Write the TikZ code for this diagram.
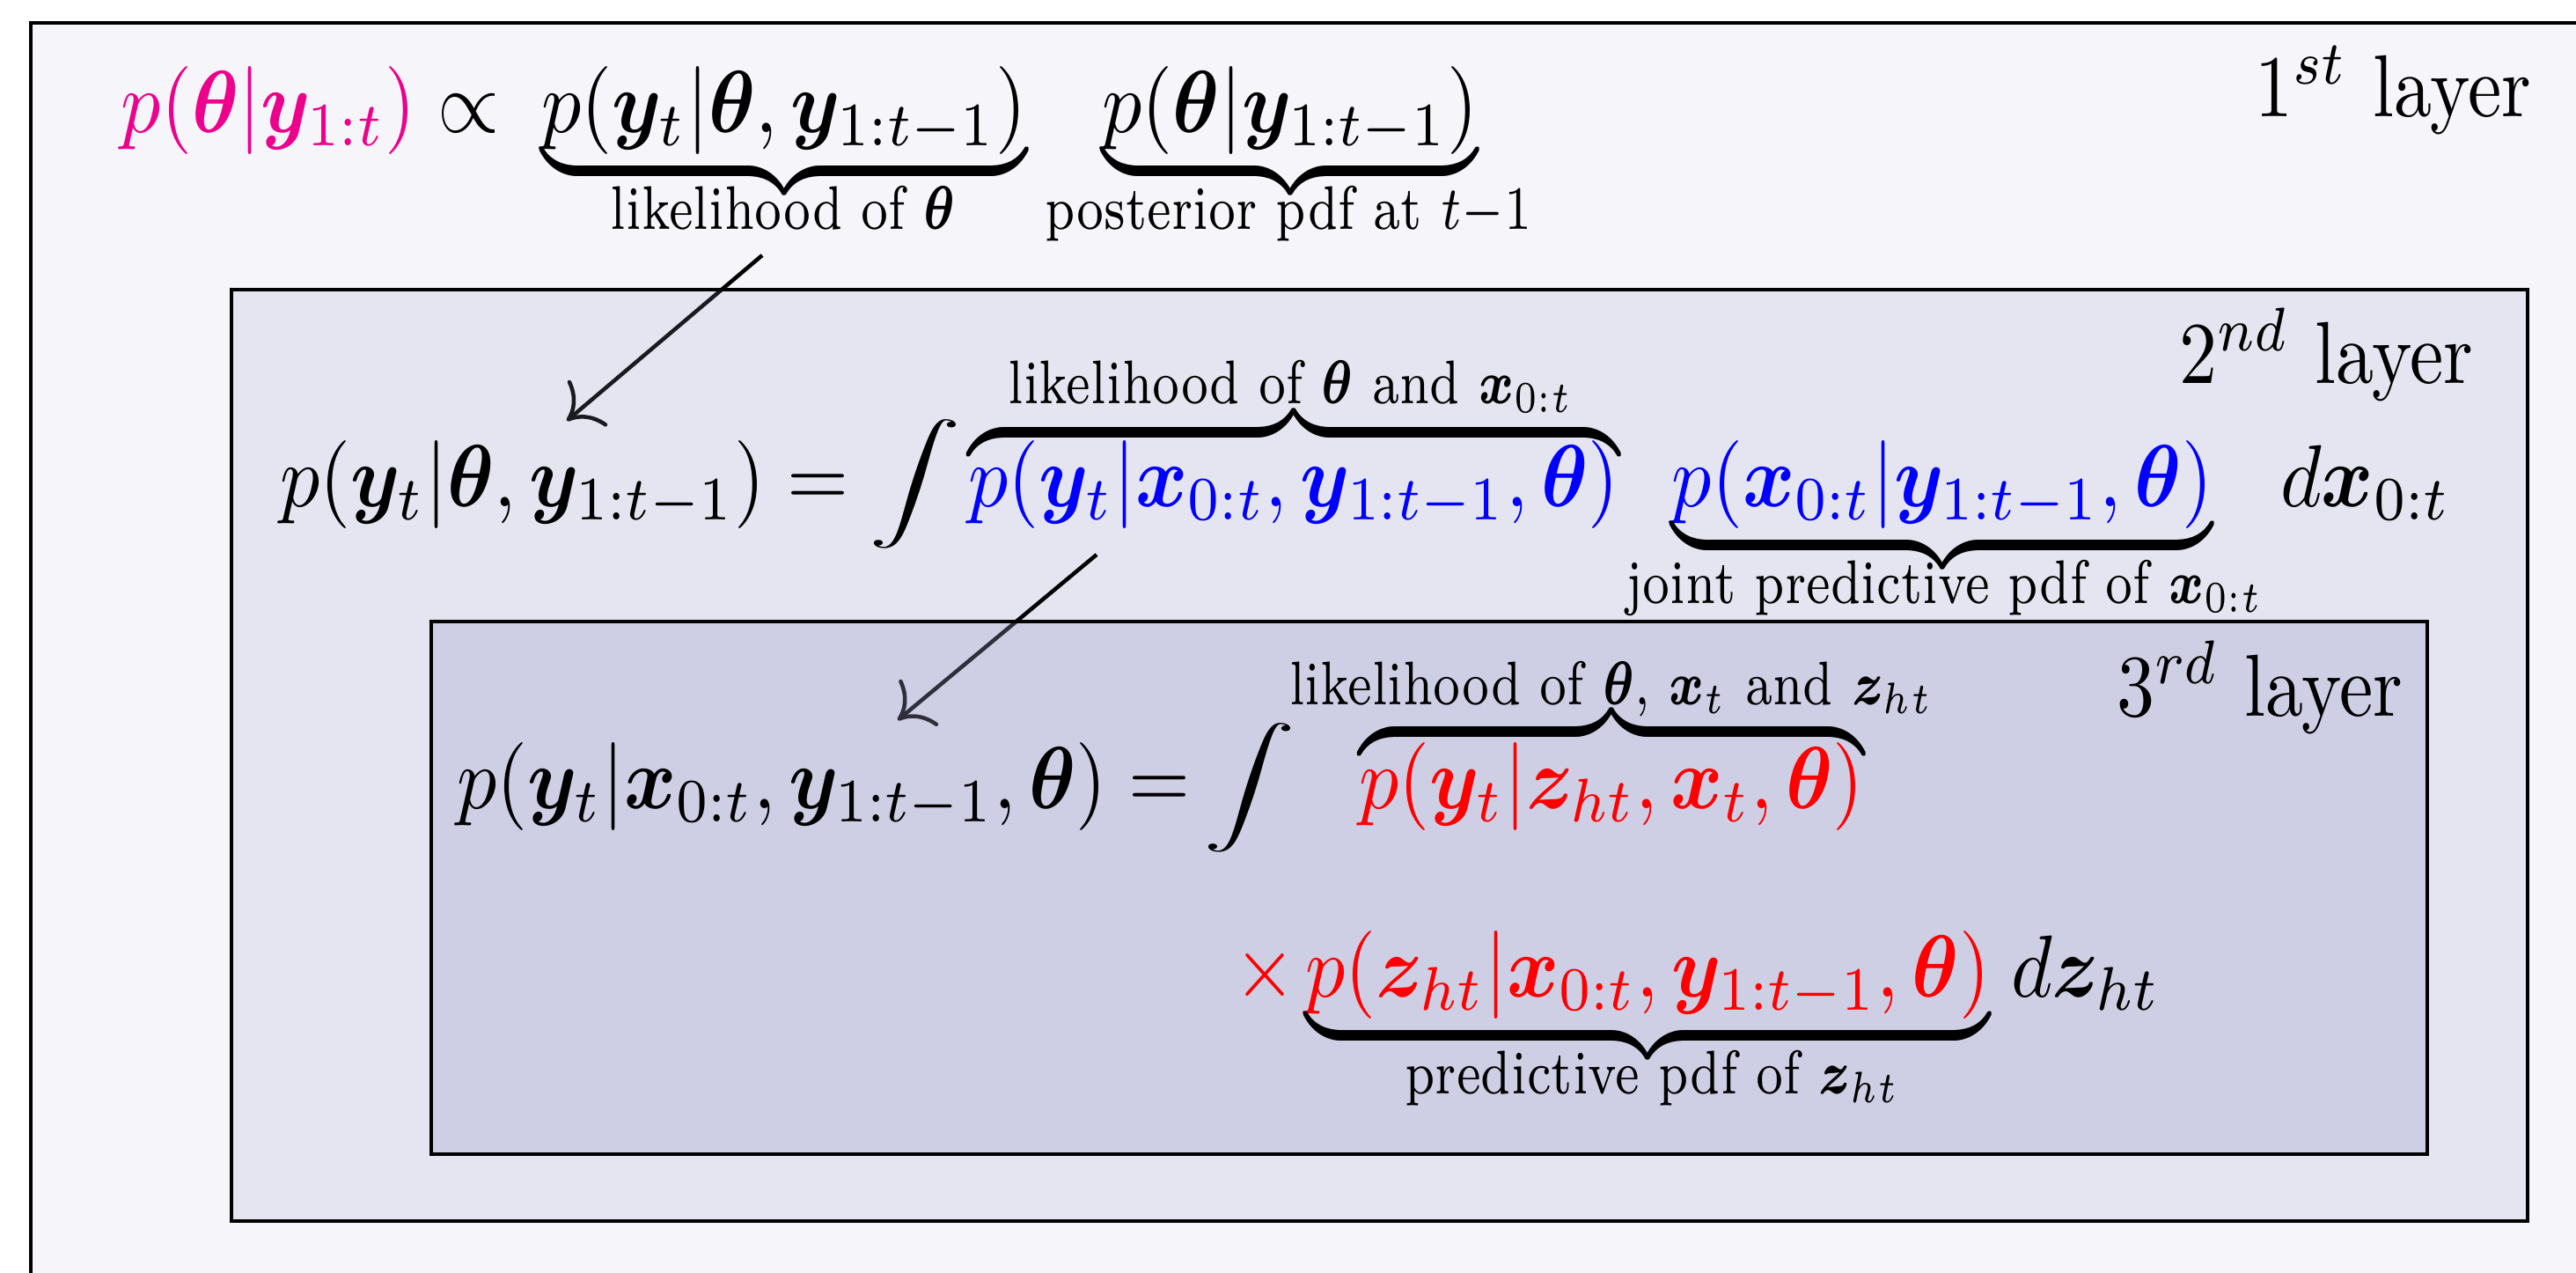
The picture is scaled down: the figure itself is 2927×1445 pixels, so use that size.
\documentclass[tikz,border=0pt]{standalone}
\usepackage{amsmath,bm,graphicx}
\usetikzlibrary{arrows.meta}
\definecolor{pinkc}{RGB}{236,0,140}
\definecolor{boxc}{RGB}{156,156,200}
\definecolor{bgc}{RGB}{245,245,250}
\newsavebox\brbox
\newcommand{\ubr}[2][1.3pt]{\sbox\brbox{$#2$}\vtop{\hbox{\usebox\brbox}\nointerlineskip\kern#1\hbox to \wd\brbox{\upbracefill}}}
\newcommand{\obr}[2][0.4pt]{\sbox\brbox{$#2$}\vbox{\hbox to \wd\brbox{\downbracefill}\nointerlineskip\kern#1\hbox{\usebox\brbox}}}
\newcommand{\mth}[1]{\scalebox{0.9}[1]{#1}}
\newcommand{\lb}[1]{\scalebox{0.78}[1]{#1}}
\begin{document}
\begin{tikzpicture}[x=0.1pt,y=-0.1pt,
  layerbox/.style={draw=black, line width=0.45pt, fill=boxc},
  eq/.style={inner sep=0pt, outer sep=0pt},
  lab/.style={inner sep=0pt, outer sep=0pt, anchor=base, font=\scriptsize},
  arr/.style={line width=0.45pt, -{To[length=3.3pt,width=6.8pt]}}
]
\useasboundingbox (0,0) rectangle (2927,1445);
\clip (0,0) rectangle (2927,1445);
\fill[white] (0,0) rectangle (2927,1445);
% first layer
\draw[line width=0.45pt, fill=bgc] (35,26) rectangle (3000,1500);
\coordinate (a1s) at (866,290);
\coordinate (a1e) at (644,478);
\draw[arr] (a1s) -- (a1e);
% second layer
\draw[layerbox, fill opacity=0.17] (263,329) rectangle (2872,1387);
\coordinate (a2s) at (1246,630);
\coordinate (a2e) at (1020,818);
\draw[arr] (a2s) -- (a2e);
% third layer
\draw[layerbox, fill opacity=0.30] (490,706) rectangle (2758,1311);

% layer titles
\node[eq, anchor=base east] (t1) at (2876,132) {\scalebox{0.86}[1]{$1^{st}$ layer}};
\node[eq, anchor=base east] (t2) at (2810,435) {\scalebox{0.86}[1]{$2^{nd}$ layer}};
\node[eq, anchor=base east] (t3) at (2730,813) {\scalebox{0.86}[1]{$3^{rd}$ layer}};

% line 1
\node[eq, anchor=base west] (l1a) at (138,150) {\mth{${\color{pinkc}p(\bm\theta|\bm y_{1:t})}\propto$}};
\node[eq, anchor=base] (l1b) at (891,150) {\mth{\ubr{p(\bm y_t|\bm\theta,\bm y_{1:t-1})}}};
\node[eq, anchor=base] (l1c) at (1466,150) {\mth{\ubr{p(\bm\theta|\bm y_{1:t-1})}}};
\node[lab] (b1b) at (890,260) {\lb{likelihood of $\bm\theta$}};
\node[lab] (b1c) at (1464,260) {\lb{posterior pdf at $t{-}1$}};

% line 2
\node[eq, anchor=base west] (l2a) at (318,575) {\mth{$p(\bm y_t|\bm\theta,\bm y_{1:t-1}) =$}};
\node[eq] (i2) at (1040,550) {\scalebox{1.05}[0.66]{$\displaystyle\int$}};
\node[eq, anchor=base] (l2b) at (1470,575) {\mth{\obr[0.3pt]{\color{blue}p(\bm y_t|\bm x_{0:t},\bm y_{1:t-1},\bm\theta)}}};
\node[eq, anchor=base] (l2c) at (2207,575) {\mth{\ubr{\color{blue}p(\bm x_{0:t}|\bm y_{1:t-1},\bm\theta)}}};
\node[eq, anchor=base west] (l2d) at (2591,575) {\mth{$d\bm x_{0:t}$}};
\node[lab] (b2b) at (1467,458) {\lb{likelihood of $\bm\theta$ and $\bm x_{0:t}$}};
\node[lab] (b2c) at (2210,685) {\lb{joint predictive pdf of $\bm x_{0:t}$}};

% line 3
\node[eq, anchor=base west] (l3a) at (519,918) {\mth{$p(\bm y_t|\bm x_{0:t},\bm y_{1:t-1},\bm\theta) =$}};
\node[eq] (i3) at (1420,895) {\scalebox{1.05}[0.66]{$\displaystyle\int$}};
\node[eq, anchor=base] (l3b) at (1831,918) {\mth{\obr[0.6pt]{\color{red}p(\bm y_t|\bm z_{ht},\bm x_t,\bm\theta)}}};
\node[lab] (b3b) at (1831,800) {\lb{likelihood of $\bm\theta$, $\bm x_t$ and $\bm z_{ht}$}};

% line 4
\node[eq, anchor=base west] (l4a) at (1402,1132) {\mth{${\color{red}\times}$}};
\node[eq, anchor=base] (l4b) at (1872,1132) {\mth{\ubr{\color{red}p(\bm z_{ht}|\bm x_{0:t},\bm y_{1:t-1},\bm\theta)}}};
\node[eq, anchor=base west] (l4c) at (2285,1132) {\mth{$d\bm z_{ht}$}};
\node[lab] (b4b) at (1878,1242) {\lb{predictive pdf of $\bm z_{ht}$}};
\end{tikzpicture}
\end{document}
